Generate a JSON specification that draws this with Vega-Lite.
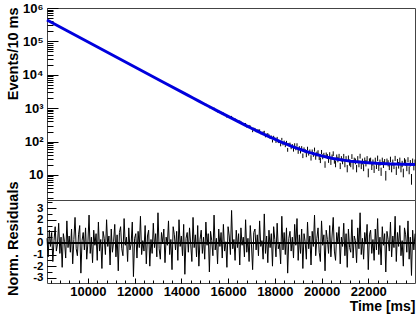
{
"$schema": "https://vega.github.io/schema/vega-lite/v6.json",
"background": "white",
"padding": {"left": 4, "top": 1, "right": 2, "bottom": 2},
"spacing": 0,
"bounds": "flush",
"config": {
 "view": {"stroke": "#444", "strokeWidth": 1},
 "axis": {"domain": false, "grid": false, "labelFont": "Liberation Sans", "labelFontWeight": "bold", "labelFontSize": 13, "labelColor": "black", "tickColor": "black", "tickWidth": 1, "titleFont": "Liberation Sans", "titleFontWeight": "bold", "titleFontSize": 14.5, "titleColor": "black", "labelFlush": false, "labelOverlap": false}
},
"datasets": {
"fit": [
{"t":8250,"f":436020},{"t":9250,"f":184140},{"t":10250,"f":77780},{"t":11250,"f":32860},{"t":12250,"f":13890},{"t":13250,"f":5876},{"t":14250,"f":2491},{"t":14500,"f":2012},{"t":14750,"f":1626},{"t":15000,"f":1314},{"t":15250,"f":1063},{"t":15500,"f":861},{"t":15750,"f":698},{"t":16000,"f":567},{"t":16250,"f":461},{"t":16500,"f":375},{"t":16750,"f":306},{"t":17000,"f":251},{"t":17250,"f":206},{"t":17500,"f":170},{"t":17750,"f":141},{"t":18000,"f":117.5},{"t":18250,"f":98.6},{"t":18500,"f":83.4},{"t":18750,"f":71.1},{"t":19000,"f":61.2},{"t":19250,"f":53.2},{"t":19500,"f":46.8},{"t":19750,"f":41.6},{"t":20000,"f":37.4},{"t":20250,"f":34.0},{"t":20500,"f":31.3},{"t":20750,"f":29.1},{"t":21000,"f":27.35},{"t":21250,"f":25.9},{"t":21500,"f":24.8},{"t":21750,"f":23.85},{"t":22000,"f":23.1},{"t":22500,"f":22.0},{"t":23000,"f":21.3},{"t":23500,"f":20.85},{"t":24000,"f":20.55}
],
"obs": [
{"t":15000,"lo":1228,"hi":1299},{"t":15100,"lo":1165,"hi":1235},{"t":15200,"lo":994,"hi":1058},{"t":15300,"lo":993,"hi":1057},{"t":15400,"lo":978,"hi":1042},{"t":15500,"lo":843,"hi":903},{"t":15600,"lo":796,"hi":854},{"t":15700,"lo":725,"hi":779},{"t":15800,"lo":684,"hi":738},{"t":15900,"lo":593,"hi":643},
{"t":16000,"lo":575,"hi":624},{"t":16100,"lo":477,"hi":521},{"t":16200,"lo":447,"hi":491},{"t":16300,"lo":452,"hi":496},{"t":16400,"lo":379,"hi":419},{"t":16500,"lo":392,"hi":432},{"t":16600,"lo":323,"hi":360},{"t":16700,"lo":322,"hi":358},{"t":16800,"lo":263,"hi":297},{"t":16900,"lo":281,"hi":315},
{"t":17000,"lo":233,"hi":265},{"t":17100,"lo":229,"hi":261},{"t":17200,"lo":191,"hi":219},{"t":17300,"lo":199,"hi":229},{"t":17400,"lo":166,"hi":192},{"t":17500,"lo":174,"hi":202},{"t":17600,"lo":134,"hi":158},{"t":17700,"lo":154,"hi":180},{"t":17800,"lo":120,"hi":142},{"t":17900,"lo":94,"hi":114},
{"t":18000,"lo":110,"hi":132},{"t":18100,"lo":116,"hi":138},{"t":18200,"lo":91,"hi":111},{"t":18300,"lo":107,"hi":129},{"t":18400,"lo":87,"hi":107},{"t":18500,"lo":85,"hi":105},{"t":18600,"lo":73,"hi":91},{"t":18700,"lo":59,"hi":75},{"t":18800,"lo":50,"hi":66},{"t":18900,"lo":55,"hi":71},
{"t":19000,"lo":43,"hi":57},{"t":19100,"lo":44,"hi":58},{"t":19200,"lo":32,"hi":44},{"t":19300,"lo":45,"hi":59},{"t":19400,"lo":54,"hi":70},{"t":19500,"lo":44,"hi":58},{"t":19600,"lo":44,"hi":58},{"t":19700,"lo":50,"hi":66},{"t":19800,"lo":36,"hi":50},{"t":19900,"lo":28,"hi":40},
{"t":20000,"lo":42,"hi":56},{"t":20100,"lo":34,"hi":46},{"t":20200,"lo":35,"hi":47},{"t":20300,"lo":23,"hi":33},{"t":20400,"lo":20,"hi":30},{"t":20500,"lo":37,"hi":51},{"t":20600,"lo":17,"hi":27},{"t":20700,"lo":24,"hi":35},{"t":20800,"lo":15,"hi":23},{"t":20900,"lo":21,"hi":31},
{"t":21000,"lo":17,"hi":27},{"t":21100,"lo":12,"hi":20},{"t":21200,"lo":19,"hi":29},{"t":21300,"lo":30,"hi":42},{"t":21400,"lo":23,"hi":33},{"t":21500,"lo":12,"hi":20},{"t":21600,"lo":17,"hi":27},{"t":21700,"lo":15,"hi":23},{"t":21800,"lo":13,"hi":21},{"t":21900,"lo":18,"hi":28},
{"t":22000,"lo":8.5,"hi":15.5},{"t":22100,"lo":23,"hi":33},{"t":22200,"lo":19,"hi":29},{"t":22300,"lo":23,"hi":33},{"t":22400,"lo":26,"hi":38},{"t":22500,"lo":19,"hi":29},{"t":22600,"lo":23,"hi":33},{"t":22700,"lo":20,"hi":30},{"t":22800,"lo":21,"hi":31},{"t":22900,"lo":14,"hi":22},
{"t":23000,"lo":12,"hi":20},{"t":23100,"lo":15,"hi":23},{"t":23200,"lo":10,"hi":18},{"t":23300,"lo":15.5,"hi":24.5},{"t":23400,"lo":12,"hi":20},{"t":23500,"lo":8.5,"hi":15.5},{"t":23600,"lo":19,"hi":29},{"t":23700,"lo":24,"hi":34},{"t":23800,"lo":18,"hi":28},{"t":23900,"lo":21,"hi":31},
{"t":24000,"lo":19,"hi":29},
{"t":15050,"lo":1287,"hi":1359},{"t":15150,"lo":1150,"hi":1218},{"t":15250,"lo":1063,"hi":1129},{"t":15350,"lo":912,"hi":974},{"t":15450,"lo":850,"hi":910},{"t":15550,"lo":746,"hi":802},{"t":15650,"lo":724,"hi":778},{"t":15750,"lo":638,"hi":690},{"t":15850,"lo":599,"hi":649},{"t":15950,"lo":517,"hi":563},
{"t":16050,"lo":533,"hi":581},{"t":16150,"lo":539,"hi":587},{"t":16250,"lo":445,"hi":489},{"t":16350,"lo":426,"hi":468},{"t":16450,"lo":387,"hi":427},{"t":16550,"lo":365,"hi":405},{"t":16650,"lo":322,"hi":360},{"t":16750,"lo":322,"hi":360},{"t":16850,"lo":272,"hi":306},{"t":16950,"lo":268,"hi":302},
{"t":17050,"lo":191,"hi":219},{"t":17150,"lo":225,"hi":256},{"t":17250,"lo":201,"hi":231},{"t":17350,"lo":202,"hi":232},{"t":17450,"lo":166,"hi":192},{"t":17550,"lo":182,"hi":210},{"t":17650,"lo":146,"hi":172},{"t":17750,"lo":142,"hi":166},{"t":17850,"lo":128,"hi":152},{"t":17950,"lo":125,"hi":149},
{"t":18050,"lo":91,"hi":111},{"t":18150,"lo":90,"hi":110},{"t":18250,"lo":72,"hi":90},{"t":18350,"lo":77,"hi":95},{"t":18450,"lo":68,"hi":86},{"t":18550,"lo":49.5,"hi":64.5},{"t":18650,"lo":75,"hi":93},{"t":18750,"lo":66,"hi":84},{"t":18850,"lo":71,"hi":89},{"t":18950,"lo":71,"hi":89},
{"t":19050,"lo":57,"hi":73},{"t":19150,"lo":57,"hi":73},{"t":19250,"lo":51,"hi":67},{"t":19350,"lo":34,"hi":47},{"t":19450,"lo":38,"hi":51},{"t":19550,"lo":27,"hi":39},{"t":19650,"lo":35,"hi":48},{"t":19750,"lo":28.6,"hi":40.4},{"t":19850,"lo":41,"hi":55},{"t":19950,"lo":22.7,"hi":33.3},
{"t":20050,"lo":29.5,"hi":41.5},{"t":20150,"lo":16.4,"hi":25.6},{"t":20250,"lo":30,"hi":42},{"t":20350,"lo":35,"hi":48},{"t":20450,"lo":29,"hi":41},{"t":20550,"lo":21.8,"hi":32.2},{"t":20650,"lo":29,"hi":41},{"t":20750,"lo":30.6,"hi":42.8},{"t":20850,"lo":25.4,"hi":36.6},{"t":20950,"lo":30.5,"hi":42.7},
{"t":21050,"lo":25.4,"hi":36.6},{"t":21150,"lo":26.9,"hi":38.3},{"t":21250,"lo":17.1,"hi":26.5},{"t":21350,"lo":14.6,"hi":23.4},{"t":21450,"lo":20.9,"hi":31.1},{"t":21550,"lo":25.4,"hi":36.6},{"t":21650,"lo":30.9,"hi":43.1},{"t":21750,"lo":20.7,"hi":30.9},{"t":21850,"lo":22.7,"hi":33.3},{"t":21950,"lo":25.4,"hi":36.6},
{"t":22050,"lo":21.2,"hi":31.4},{"t":22150,"lo":14.1,"hi":22.7},{"t":22250,"lo":11.5,"hi":19.3},{"t":22350,"lo":15.1,"hi":23.9},{"t":22450,"lo":13.2,"hi":21.6},{"t":22550,"lo":9.4,"hi":16.6},{"t":22650,"lo":16.2,"hi":25.4},{"t":22750,"lo":6.8,"hi":13.2},{"t":22850,"lo":18,"hi":27.6},{"t":22950,"lo":24.3,"hi":35.2},
{"t":23050,"lo":19.1,"hi":28.9},{"t":23150,"lo":26.1,"hi":37.3},{"t":23250,"lo":20.2,"hi":30.2},{"t":23350,"lo":22.5,"hi":33.1},{"t":23450,"lo":17.1,"hi":26.5},{"t":23550,"lo":21.5,"hi":31.9},{"t":23650,"lo":13,"hi":21.2},{"t":23750,"lo":10.5,"hi":18.1},{"t":23850,"lo":5.1,"hi":10.7},{"t":23950,"lo":13.7,"hi":22.1}
],
"res": [
{"t":8250,"r":0.4},{"t":8300,"r":-1.2},{"t":8350,"r":1.1},{"t":8400,"r":-0.3},{"t":8450,"r":0.9},{"t":8500,"r":-1.6},{"t":8550,"r":0.2},{"t":8600,"r":1.4},{"t":8650,"r":-0.7},{"t":8700,"r":-0.1},
{"t":8750,"r":1.7},{"t":8800,"r":-0.9},{"t":8850,"r":0.5},{"t":8900,"r":-2.1},{"t":8950,"r":0.8},{"t":9000,"r":0.1},{"t":9050,"r":-1.3},{"t":9100,"r":1.9},{"t":9150,"r":-0.4},{"t":9200,"r":0.6},
{"t":9250,"r":-0.8},{"t":9300,"r":1.2},{"t":9350,"r":-1.8},{"t":9400,"r":0.3},{"t":9450,"r":2.2},{"t":9500,"r":-0.5},{"t":9550,"r":-1.1},{"t":9600,"r":0.7},{"t":9650,"r":1.5},{"t":9700,"r":-2.6},
{"t":9750,"r":0.2},{"t":9800,"r":0.9},{"t":9850,"r":-0.6},{"t":9900,"r":1.3},{"t":9950,"r":-1.4},{"t":10000,"r":0.0},{"t":10050,"r":2.4},{"t":10100,"r":-0.9},{"t":10150,"r":0.5},{"t":10200,"r":-1.7},
{"t":10250,"r":1.1},{"t":10300,"r":-0.2},{"t":10350,"r":0.8},{"t":10400,"r":-1.5},{"t":10450,"r":1.8},{"t":10500,"r":-0.7},{"t":10550,"r":0.3},{"t":10600,"r":-2.2},{"t":10650,"r":1.0},{"t":10700,"r":0.4},
{"t":10750,"r":-1.0},{"t":10800,"r":2.0},{"t":10850,"r":-0.3},{"t":10900,"r":0.6},{"t":10950,"r":-1.9},{"t":11000,"r":1.2},{"t":11050,"r":-0.8},{"t":11100,"r":0.1},{"t":11150,"r":1.6},{"t":11200,"r":-1.2},
{"t":11250,"r":0.7},{"t":11300,"r":-2.4},{"t":11350,"r":0.9},{"t":11400,"r":1.4},{"t":11450,"r":-0.5},{"t":11500,"r":-1.1},{"t":11550,"r":2.1},{"t":11600,"r":-0.2},{"t":11650,"r":0.5},{"t":11700,"r":-1.6},
{"t":11750,"r":1.3},{"t":11800,"r":-0.6},{"t":11850,"r":-0.1},{"t":11900,"r":1.8},{"t":11950,"r":-2.9},{"t":12000,"r":0.4},{"t":12050,"r":0.8},{"t":12100,"r":-1.3},{"t":12150,"r":1.0},{"t":12200,"r":-0.4},
{"t":12250,"r":2.3},{"t":12300,"r":-1.0},{"t":12350,"r":0.2},{"t":12400,"r":-0.7},{"t":12450,"r":1.5},{"t":12500,"r":-1.8},{"t":12550,"r":0.6},{"t":12600,"r":1.1},{"t":12650,"r":-2.0},{"t":12700,"r":0.3},
{"t":12750,"r":-0.9},{"t":12800,"r":1.7},{"t":12850,"r":-0.4},{"t":12900,"r":0.8},{"t":12950,"r":-1.2},{"t":13000,"r":2.6},{"t":13050,"r":-0.5},{"t":13100,"r":-1.4},{"t":13150,"r":0.9},{"t":13200,"r":0.0},
{"t":13250,"r":1.2},{"t":13300,"r":-1.7},{"t":13350,"r":0.5},{"t":13400,"r":-0.2},{"t":13450,"r":1.9},{"t":13500,"r":-1.0},{"t":13550,"r":0.3},{"t":13600,"r":-2.3},{"t":13650,"r":1.4},{"t":13700,"r":0.7},
{"t":13750,"r":-0.6},{"t":13800,"r":1.0},{"t":13850,"r":-1.5},{"t":13900,"r":2.0},{"t":13950,"r":-0.3},{"t":14000,"r":0.6},{"t":14050,"r":-1.1},{"t":14100,"r":1.6},{"t":14150,"r":-2.7},{"t":14200,"r":0.4},
{"t":14250,"r":0.9},{"t":14300,"r":-0.8},{"t":14350,"r":1.3},{"t":14400,"r":-0.1},{"t":14450,"r":-1.6},{"t":14500,"r":2.2},{"t":14550,"r":-0.4},{"t":14600,"r":0.7},{"t":14650,"r":-1.2},{"t":14700,"r":1.5},
{"t":14750,"r":-2.0},{"t":14800,"r":0.3},{"t":14850,"r":1.1},{"t":14900,"r":-0.9},{"t":14950,"r":0.5},{"t":15000,"r":-1.4},{"t":15050,"r":1.8},{"t":15100,"r":-0.2},{"t":15150,"r":0.8},{"t":15200,"r":-2.5},
{"t":15250,"r":1.0},{"t":15300,"r":0.2},{"t":15350,"r":-1.1},{"t":15400,"r":2.4},{"t":15450,"r":-0.6},{"t":15500,"r":0.4},{"t":15550,"r":-1.8},{"t":15600,"r":1.2},{"t":15650,"r":-0.3},{"t":15700,"r":0.9},
{"t":15750,"r":-1.3},{"t":15800,"r":1.6},{"t":15850,"r":-0.7},{"t":15900,"r":0.1},{"t":15950,"r":-2.1},{"t":16000,"r":1.4},{"t":16050,"r":0.6},{"t":16100,"r":-1.0},{"t":16150,"r":2.8},{"t":16200,"r":-0.5},
{"t":16250,"r":0.3},{"t":16300,"r":-1.5},{"t":16350,"r":1.1},{"t":16400,"r":-0.4},{"t":16450,"r":0.8},{"t":16500,"r":-1.9},{"t":16550,"r":1.3},{"t":16600,"r":-0.2},{"t":16650,"r":0.5},{"t":16700,"r":-1.2},
{"t":16750,"r":2.0},{"t":16800,"r":-0.8},{"t":16850,"r":0.4},{"t":16900,"r":-1.6},{"t":16950,"r":1.5},{"t":17000,"r":-0.1},{"t":17050,"r":-2.3},{"t":17100,"r":0.9},{"t":17150,"r":1.2},{"t":17200,"r":-0.6},
{"t":17250,"r":0.7},{"t":17300,"r":-1.1},{"t":17350,"r":1.9},{"t":17400,"r":-0.3},{"t":17450,"r":0.2},{"t":17500,"r":-1.4},{"t":17550,"r":2.5},{"t":17600,"r":-0.9},{"t":17650,"r":0.6},{"t":17700,"r":-1.7},
{"t":17750,"r":1.1},{"t":17800,"r":-0.4},{"t":17850,"r":0.8},{"t":17900,"r":-2.0},{"t":17950,"r":1.4},{"t":18000,"r":0.3},{"t":18050,"r":-1.2},{"t":18100,"r":1.7},{"t":18150,"r":-0.5},{"t":18200,"r":-0.1},
{"t":18250,"r":-1.8},{"t":18300,"r":2.3},{"t":18350,"r":-0.6},{"t":18400,"r":0.9},{"t":18450,"r":-1.0},{"t":18500,"r":1.3},{"t":18550,"r":-2.6},{"t":18600,"r":0.4},{"t":18650,"r":1.0},{"t":18700,"r":-0.7},
{"t":18750,"r":0.5},{"t":18800,"r":-1.3},{"t":18850,"r":1.6},{"t":18900,"r":-0.2},{"t":18950,"r":2.1},{"t":19000,"r":-1.5},{"t":19050,"r":0.7},{"t":19100,"r":-0.9},{"t":19150,"r":1.2},{"t":19200,"r":-2.2},
{"t":19250,"r":0.8},{"t":19300,"r":0.1},{"t":19350,"r":-1.4},{"t":19400,"r":1.8},{"t":19450,"r":-0.5},{"t":19500,"r":0.6},{"t":19550,"r":-1.9},{"t":19600,"r":1.0},{"t":19650,"r":-0.3},{"t":19700,"r":2.4},
{"t":19750,"r":-1.1},{"t":19800,"r":0.4},{"t":19850,"r":1.3},{"t":19900,"r":-0.8},{"t":19950,"r":-1.6},{"t":20000,"r":1.9},{"t":20050,"r":-0.2},{"t":20100,"r":0.7},{"t":20150,"r":-2.4},{"t":20200,"r":1.1},
{"t":20250,"r":0.3},{"t":20300,"r":-0.9},{"t":20350,"r":1.5},{"t":20400,"r":-1.2},{"t":20450,"r":0.6},{"t":20500,"r":2.2},{"t":20550,"r":-0.7},{"t":20600,"r":-1.5},{"t":20650,"r":0.9},{"t":20700,"r":0.0},
{"t":20750,"r":1.4},{"t":20800,"r":-1.8},{"t":20850,"r":0.5},{"t":20900,"r":-0.3},{"t":20950,"r":1.7},{"t":21000,"r":-1.1},{"t":21050,"r":0.8},{"t":21100,"r":-2.1},{"t":21150,"r":1.2},{"t":21200,"r":-0.4},
{"t":21250,"r":-0.8},{"t":21300,"r":2.0},{"t":21350,"r":-1.3},{"t":21400,"r":0.6},{"t":21450,"r":0.2},{"t":21500,"r":-1.7},{"t":21550,"r":1.3},{"t":21600,"r":-0.5},{"t":21650,"r":2.6},{"t":21700,"r":-1.0},
{"t":21750,"r":0.4},{"t":21800,"r":-1.4},{"t":21850,"r":0.9},{"t":21900,"r":-0.1},{"t":21950,"r":1.6},{"t":22000,"r":-2.3},{"t":22050,"r":0.7},{"t":22100,"r":1.1},{"t":22150,"r":-0.9},{"t":22200,"r":0.3},
{"t":22250,"r":-1.5},{"t":22300,"r":1.2},{"t":22350,"r":-0.6},{"t":22400,"r":2.1},{"t":22450,"r":-1.0},{"t":22500,"r":0.5},{"t":22550,"r":-1.9},{"t":22600,"r":1.4},{"t":22650,"r":-0.2},{"t":22700,"r":0.8},
{"t":22750,"r":-2.5},{"t":22800,"r":1.0},{"t":22850,"r":0.3},{"t":22900,"r":-0.7},{"t":22950,"r":1.8},{"t":23000,"r":-1.2},{"t":23050,"r":0.6},{"t":23100,"r":-0.4},{"t":23150,"r":2.3},{"t":23200,"r":-1.6},
{"t":23250,"r":0.9},{"t":23300,"r":-0.3},{"t":23350,"r":1.5},{"t":23400,"r":-1.1},{"t":23450,"r":0.2},{"t":23500,"r":-2.0},{"t":23550,"r":1.3},{"t":23600,"r":0.7},{"t":23650,"r":-0.8},{"t":23700,"r":1.9},
{"t":23750,"r":-1.4},{"t":23800,"r":0.5},{"t":23850,"r":-2.8},{"t":23900,"r":1.1},{"t":23950,"r":-0.6},{"t":24000,"r":0.8}
]
},
"vconcat": [
 {
  "width": 368, "height": 192,
  "layer": [
   {
    "data": {"name": "obs"},
    "mark": {"type": "rule", "color": "black", "strokeWidth": 1},
    "encoding": {
     "x": {"field": "t", "type": "quantitative", "scale": {"domain": [8250, 24000], "nice": false, "zero": false}, "axis": null},
     "y": {"field": "lo", "type": "quantitative", "scale": {"type": "log", "domain": [1.78, 1000000], "nice": false},
      "axis": {"orient": "left", "values": [10, 100, 1000, 10000, 100000, 1000000], "tickSize": -11, "labelPadding": 15,
       "labelExpr": "datum.value == 10 ? '10' : datum.value == 100 ? '10²' : datum.value == 1000 ? '10³' : datum.value == 10000 ? '10⁴' : datum.value == 100000 ? '10⁵' : '10⁶'",
       "title": "Events/10 ms", "titleX": -30, "titleY": -1, "titleAlign": "right", "titleBaseline": "alphabetic", "titleAngle": 270}},
     "y2": {"field": "hi"}
    }
   },
   {
    "data": {"name": "fit"},
    "mark": {"type": "line", "color": "#0000dd", "strokeWidth": 3},
    "encoding": {
     "x": {"field": "t", "type": "quantitative", "scale": {"domain": [8250, 24000], "nice": false, "zero": false}, "axis": null},
     "y": {"field": "f", "type": "quantitative", "scale": {"type": "log", "domain": [1.78, 1000000], "nice": false},
      "axis": {"orient": "left", "values": [2,3,4,5,6,7,8,9,20,30,40,50,60,70,80,90,200,300,400,500,600,700,800,900,2000,3000,4000,5000,6000,7000,8000,9000,20000,30000,40000,50000,60000,70000,80000,90000,200000,300000,400000,500000,600000,700000,800000,900000], "tickSize": -6, "labels": false, "title": null}}
    }
   }
  ],
  "resolve": {"axis": {"y": "independent"}}
 },
 {
  "width": 368, "height": 83,
  "layer": [
   {
    "data": {"name": "res"},
    "mark": {"type": "line", "color": "black", "strokeWidth": 1},
    "encoding": {
     "x": {"field": "t", "type": "quantitative", "scale": {"domain": [8250, 24000], "nice": false, "zero": false},
      "axis": {"orient": "bottom", "values": [10000, 12000, 14000, 16000, 18000, 20000, 22000], "format": "d", "tickSize": -5, "labelPadding": 7,
       "title": "Time [ms]", "titleFontSize": 14, "titleX": 368, "titleY": 27, "titleAlign": "right", "titleBaseline": "alphabetic"}},
     "y": {"field": "r", "type": "quantitative", "scale": {"domain": [-3.45, 3.7], "nice": false, "zero": false},
      "axis": {"orient": "left", "values": [-3, -2, -1, 0, 1, 2, 3], "tickSize": -9, "labelPadding": 13, "labelFontSize": 11.5,
       "labelExpr": "replace(datum.label, '−', '-')",
       "title": "Norm. Residuals", "titleX": -30, "titleY": -19, "titleAlign": "right", "titleBaseline": "alphabetic", "titleAngle": 270}}
    }
   },
   {
    "data": {"name": "res"},
    "mark": {"type": "rule", "color": "black", "strokeWidth": 1.5},
    "encoding": {"y": {"datum": 0, "type": "quantitative", "axis": null}}
   },
   {
    "data": {"name": "res"},
    "mark": {"type": "line", "opacity": 0},
    "encoding": {
     "x": {"field": "t", "type": "quantitative", "axis": {"orient": "bottom", "values": [8400,8800,9200,9600,10000,10400,10800,11200,11600,12000,12400,12800,13200,13600,14000,14400,14800,15200,15600,16000,16400,16800,17200,17600,18000,18400,18800,19200,19600,20000,20400,20800,21200,21600,22000,22400,22800,23200,23600], "tickSize": -3, "labels": false, "title": null}},
     "y": {"field": "r", "type": "quantitative", "axis": {"orient": "left", "values": [-3,-2.5,-2,-1.5,-1,-0.5,0,0.5,1,1.5,2,2.5,3,3.5], "tickSize": -5, "labels": false, "title": null}}
    }
   }
  ],
  "resolve": {"axis": {"x": "independent", "y": "independent"}}
 }
]
}
